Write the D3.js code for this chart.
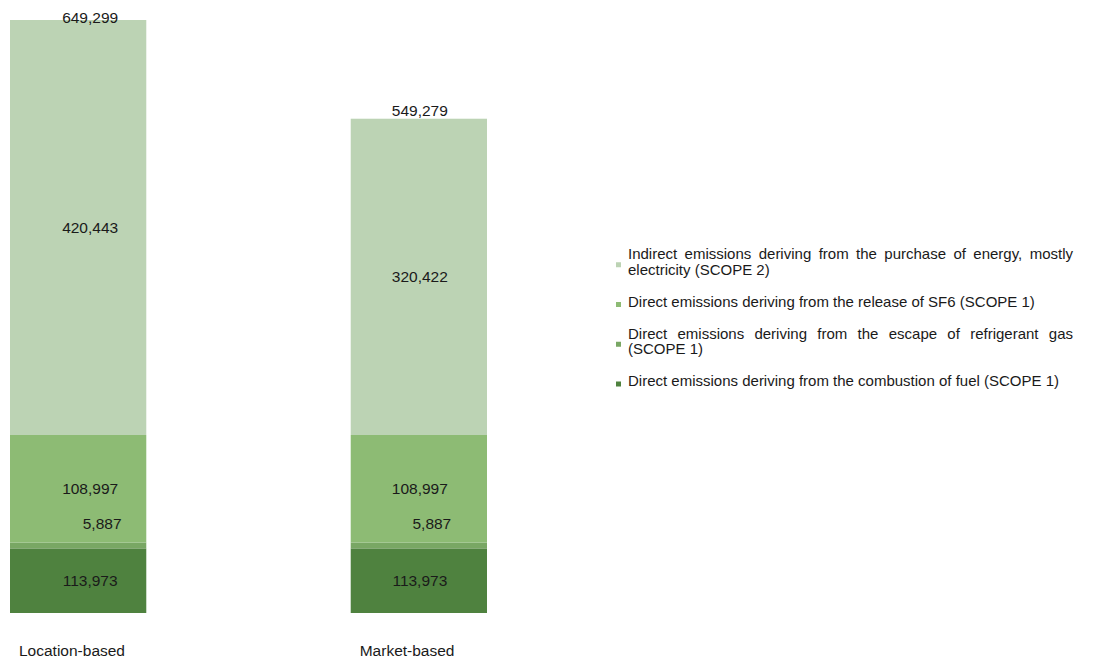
<!DOCTYPE html>
<html>
<head>
<meta charset="utf-8">
<script src="https://cdn.jsdelivr.net/npm/d3@7/dist/d3.min.js"></script>
<style>
  html, body { margin: 0; padding: 0; background: #ffffff; }
  svg { display: block; font-family: "Liberation Sans", Arial, sans-serif; }
</style>
</head>
<body>
<svg id="chart" width="1096" height="660"></svg>
<script>
// Emission accounting methods (x categories)
const categories = ["Location-based", "Market-based"];

// Series, in stacking order (bottom to top)
const seriesKeys = ["combustion", "refrigerant", "sf6", "scope2"];
const seriesNames = [
  "Direct emissions deriving from the combustion of fuel (SCOPE 1)",
  "Direct emissions deriving from the escape of refrigerant gas (SCOPE 1)",
  "Direct emissions deriving from the release of SF6 (SCOPE 1)",
  "Indirect emissions deriving from the purchase of energy, mostly electricity (SCOPE 2)"
];

// Values per category (tCO2e)
const combustionFuel = [113973, 113973];
const refrigerantGas = [5887, 5887];
const sf6Release = [108997, 108997];
const scope2Energy = [420443, 320422];
const totals = [649299, 549279];

// Lower end of the value axis (bars are cut at the baseline)
const axisMin = 48500;

const colors = {
  combustion: "#4f823f",
  refrigerant: "#79a764",
  sf6: "#8dbb74",
  scope2: "#bcd3b4"
};

const valuesByKey = {
  combustion: combustionFuel,
  refrigerant: refrigerantGas,
  sf6: sf6Release,
  scope2: scope2Energy
};

const rows = categories.map((c, i) => {
  const r = { category: c, total: totals[i] };
  seriesKeys.forEach(k => { r[k] = valuesByKey[k][i]; });
  return r;
});

const svg = d3.select("#chart");
const fmt = d3.format(",");

const x = d3.scaleBand()
  .domain(categories)
  .range([10, 487])
  .paddingInner(0.6)
  .paddingOuter(0);

const y = d3.scaleLinear()
  .domain([axisMin, d3.max(totals)])
  .range([613, 20])
  .clamp(true);

const stacked = d3.stack().keys(seriesKeys)(rows);

// value labels sit a little right of centre on the first bar
const labelDx = { "Location-based": 12, "Market-based": 1 };

const layers = svg.append("g").selectAll("g.layer")
  .data(stacked)
  .join("g")
  .attr("class", "layer")
  .attr("fill", d => colors[d.key]);

layers.selectAll("rect")
  .data(d => d)
  .join("rect")
  .attr("x", d => x(d.data.category))
  .attr("width", x.bandwidth())
  .attr("y", d => y(d[1]))
  .attr("height", d => y(d[0]) - y(d[1]));

// Segment value labels
const labelG = svg.append("g")
  .attr("font-size", "15.5px")
  .attr("fill", "#1a1a1a")
  .attr("text-anchor", "middle");

stacked.forEach(layer => {
  layer.forEach(d => {
    const top = y(d[1]);
    const bottom = y(d[0]);
    const h = bottom - top;
    let cy = (top + bottom) / 2 + 5.5;
    let dx = labelDx[d.data.category];
    if (h < 18) {
      // thin slice: label goes just above it
      cy = top - 14;
      dx += 12;
    }
    labelG.append("text")
      .attr("x", x(d.data.category) + x.bandwidth() / 2 + dx)
      .attr("y", cy)
      .text(fmt(d[1] - d[0]));
  });
});

// Totals above each bar
labelG.selectAll("text.total")
  .data(rows)
  .join("text")
  .attr("class", "total")
  .attr("x", d => x(d.category) + x.bandwidth() / 2 + labelDx[d.category])
  .attr("y", d => Math.max(y(d.total) - 3, 22.5))
  .text(d => fmt(d.total));

// Category labels under the bars
svg.append("g")
  .attr("font-size", "15.5px")
  .attr("fill", "#1a1a1a")
  .selectAll("text")
  .data(categories)
  .join("text")
  .attr("x", d => x(d) + 9)
  .attr("y", 656)
  .text(d => d);

// Legend (top entry is the top of the stack)
const legend = svg.append("g")
  .attr("font-size", "15px")
  .attr("fill", "#1a1a1a");

const legendX = 628;
const wrapWidth = 450;
const justifyWidth = 445;
const lineH = 15.5;
const entryGap = 32;
let baseline = 259;

const legendOrder = seriesKeys.slice().reverse();
legendOrder.forEach(key => {
  const name = seriesNames[seriesKeys.indexOf(key)];
  // keep a bracketed scope tag together as one token
  const words = name.match(/\([^)]*\)|\S+/g);
  const g = legend.append("g");
  // greedy word wrap
  const lines = [];
  let cur = [];
  const probe = g.append("text").attr("x", -9999).attr("y", -9999);
  words.forEach(w => {
    const test = cur.concat([w]).join(" ");
    probe.text(test);
    if (probe.node().getComputedTextLength() > wrapWidth && cur.length) {
      lines.push(cur);
      cur = [w];
    } else {
      cur.push(w);
    }
  });
  lines.push(cur);
  probe.remove();

  const first = baseline;
  lines.forEach((ln, i) => {
    const t = g.append("text")
      .attr("x", legendX)
      .attr("y", baseline)
      .text(ln.join(" "));
    if (i < lines.length - 1 && ln.length > 1) {
      const natural = t.node().getComputedTextLength();
      const extra = (justifyWidth - natural) / (ln.length - 1);
      if (extra > 0) t.attr("word-spacing", extra);
    }
    if (i < lines.length - 1) baseline += lineH;
  });
  const last = baseline;
  g.append("rect")
    .attr("x", 616)
    .attr("y", (first + last) / 2 - 4.5)
    .attr("width", 5)
    .attr("height", 5)
    .attr("fill", colors[key]);
  baseline += entryGap;
});
</script>
</body>
</html>
